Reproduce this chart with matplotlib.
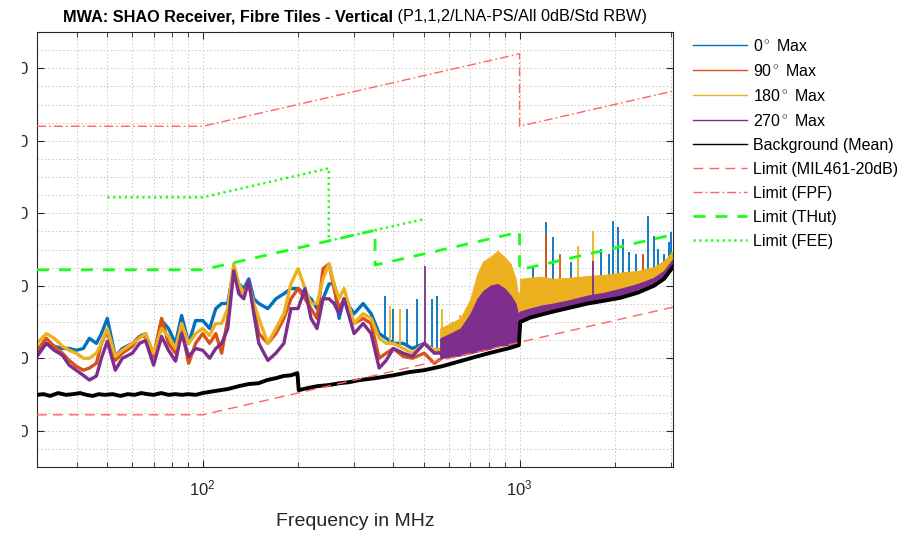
import numpy as np
import matplotlib.pyplot as plt
from matplotlib.lines import Line2D
from matplotlib.patches import Rectangle
from matplotlib.ticker import MultipleLocator, LogLocator, NullFormatter

plt.rcParams['font.family'] = ['Liberation Sans', 'DejaVu Sans']
plt.rcParams['mathtext.fontset'] = 'custom'
plt.rcParams['mathtext.rm'] = 'Liberation Sans'
plt.rcParams['mathtext.it'] = 'Liberation Sans:italic'
plt.rcParams['mathtext.bf'] = 'Liberation Sans:bold'
plt.rcParams['lines.scale_dashes'] = False

# Frequency grid of the max-hold traces (MHz)
freq = [30, 32.1, 34, 36.1, 37.9, 39.9, 42, 43.9, 46.2, 47.9,
        50, 53, 55.8, 60, 63.2, 66, 70, 74.2, 78, 82.1,
        85.8, 90.3, 95, 100, 105.2, 110, 114.8, 120, 125.3, 130,
        134.8, 139.8, 145, 150.4, 160.6, 170.2, 180.4, 189.9, 200, 210.3,
        219.7, 229.5, 239.8, 250.5, 259.8, 269.4, 279.4, 300.5, 320.9, 340.1,
        360.6, 379.5, 399.4, 429.5, 458.6, 500.5, 538.3, 579, 618.2, 660,
        699.6, 752.4, 797.7, 852, 896.7, 950.2, 995,
        1005, 1080, 1166, 1281, 1450, 1641, 1858, 2087, 2363, 2656, 2856, 3050]

max_0 = [-118.6, -115.9, -116.7, -117.3, -117.3, -117.8, -117.3, -114.5, -115.9, -113.2,
         -109.0, -119.5, -117.3, -115.9, -114.0, -113.2, -119.5, -109.6, -111.8, -115.9,
         -108.2, -115.9, -109.6, -109.6, -111.8, -106.3, -104.9, -104.9, -95.3, -99.5,
         -100.8, -98.1, -103.6, -104.9, -106.3, -103.6, -102.2, -100.8, -100.8, -102.2,
         -103.6, -106.3, -103.6, -99.5, -99.5, -109.0, -103.6, -107.7, -104.9, -107.7,
         -113.2, -114.5, -115.9, -115.9, -117.3, -115.9, -117.8, -117.8, -116.7, -115.9,
         -115.1, -114.0, -113.2, -112.3, -112.3, -112.6, -112.6,
         -103.6, -103.0, -102.5, -102.2, -101.4, -100.8, -100.3, -99.5, -98.6, -97.5, -95.9, -92.1]

max_90 = [-117.8, -114.5, -116.7, -118.6, -120.6, -122.2, -123.3, -122.7, -121.4, -115.9,
          -112.6, -120.6, -118.6, -116.7, -114.0, -114.0, -119.5, -109.0, -115.9, -118.6,
          -111.8, -121.4, -115.9, -113.2, -115.9, -113.2, -118.6, -109.0, -95.3, -100.8,
          -102.2, -99.5, -106.3, -113.2, -115.9, -113.2, -109.0, -103.6, -100.8, -103.6,
          -106.3, -109.0, -95.3, -94.0, -100.8, -106.3, -103.6, -110.4, -109.0, -110.4,
          -120.0, -118.6, -117.3, -119.5, -120.0, -118.6, -121.4, -119.5, -118.6, -117.3,
          -116.7, -115.1, -114.5, -113.4, -113.2, -113.4, -113.7,
          -104.9, -104.1, -103.6, -103.0, -102.2, -101.6, -100.8, -100.3, -99.5, -98.1, -96.7, -93.2]

max_180 = [-115.9, -113.2, -114.5, -116.7, -117.8, -118.6, -120.0, -120.0, -118.6, -115.9,
           -111.8, -119.5, -117.8, -115.9, -114.5, -113.2, -118.6, -111.8, -114.0, -117.3,
           -110.4, -115.9, -113.2, -111.8, -113.7, -110.4, -110.4, -106.3, -94.0, -99.5,
           -102.2, -99.5, -104.9, -109.0, -115.9, -111.8, -107.7, -99.5, -95.3, -100.8,
           -104.9, -104.9, -98.1, -94.0, -99.5, -103.6, -100.8, -110.4, -107.7, -109.0,
           -114.5, -115.9, -115.9, -117.3, -118.6, -115.9, -117.8, -117.3, -115.9, -115.1,
           -114.5, -113.2, -112.3, -111.8, -111.8, -112.3, -112.6,
           -102.2, -101.4, -100.8, -100.8, -100.3, -100.0, -99.5, -98.9, -98.1, -97.0, -94.8, -91.2]

max_270 = [-119.5, -115.9, -117.8, -119.2, -121.9, -123.3, -124.7, -126.0, -124.9, -120.0,
           -115.3, -123.3, -120.0, -118.6, -115.9, -115.1, -121.9, -114.0, -117.8, -120.8,
           -113.2, -119.5, -117.3, -117.8, -120.0, -117.3, -115.9, -111.8, -95.9, -102.2,
           -103.6, -98.6, -107.7, -115.9, -120.6, -118.6, -115.9, -106.3, -106.3, -100.8,
           -109.0, -111.8, -103.6, -103.6, -104.9, -107.7, -103.6, -113.2, -110.4, -113.2,
           -122.7, -120.6, -117.3, -118.6, -119.5, -115.9, -118.6, -118.6, -117.8, -117.3,
           -116.4, -115.3, -114.5, -114.0, -113.7, -114.0, -114.0,
           -107.7, -106.9, -106.3, -105.8, -104.9, -104.1, -103.3, -102.5, -101.1, -99.5, -97.5, -94.2]

# Background (mean) trace
bg_freq = [30, 31.5, 33, 35, 37, 39, 41, 43, 45, 47,
           49, 52, 55, 58, 61, 64, 67, 70, 74, 78,
           82, 86, 90, 95, 100, 110, 120, 130, 140, 150,
           160, 170, 180, 190, 199, 201, 215, 230, 250, 270,
           290, 314, 350, 400, 450, 500, 570, 650, 720, 800,
           870, 920, 995, 1005, 1080, 1166, 1281, 1450, 1641, 1858,
           2087, 2363, 2656, 2856, 3050]
bg_mean = [-130.1, -129.9, -130.4, -129.6, -130.1, -129.9, -129.6, -130.1, -130.4, -129.9,
           -130.1, -129.9, -130.4, -129.9, -130.1, -129.6, -129.9, -130.1, -129.6, -130.1,
           -129.9, -130.1, -129.9, -130.1, -129.6, -129.0, -128.5, -127.7, -127.1, -126.9,
           -126.0, -125.5, -124.9, -124.7, -124.1, -128.8, -128.2, -127.7, -127.4, -126.9,
           -126.6, -126.0, -125.5, -124.7, -123.8, -123.3, -122.2, -120.8, -119.7, -118.6,
           -117.8, -117.3, -116.4, -110.0, -108.8, -108.0, -107.1, -106.0, -104.9, -104.1,
           -103.3, -101.9, -100.0, -98.1, -94.8]

# Dense spur clusters: floor and top envelope (dB)
hump_freq = [562, 605, 651, 700, 736, 769, 809, 852, 897, 937, 971, 993]
hump_floor = [-120.0, -119.5, -119.2, -118.6, -118.1, -117.8, -117.3, -116.7, -116.4, -116.2, -115.9, -115.9]
hump_top_180 = [-111.8, -110.4, -109.0, -103.6, -96.7, -93.2, -92.1, -90.4, -92.1, -94.0, -98.1, -103.6]
hump_top_270 = [-114.5, -113.2, -111.8, -107.7, -103.6, -101.4, -100.0, -99.5, -100.8, -102.7, -104.9, -108.5]

hf_freq = [1005, 1080, 1166, 1281, 1450, 1641, 1858, 2087, 2363, 2656, 2856, 3050]
hf_floor = [-110.0, -108.8, -108.0, -107.1, -106.0, -104.9, -104.1, -103.3, -101.9, -100.0, -98.1, -94.8]
hf_top_180 = [-98.1, -97.8, -97.5, -98.1, -97.8, -97.3, -97.0, -96.4, -95.9, -94.8, -93.2, -90.4]
hf_top_270 = [-107.1, -106.3, -105.5, -104.9, -103.9, -102.7, -101.9, -100.8, -99.5, -97.8, -95.9, -92.6]

# Isolated spurs: frequency (MHz) and peak level (dB)
spur_0_f = [377, 399, 440, 475, 530, 550, 618, 700, 736, 1100, 1210, 1272, 1450,
            1805, 1912, 1969, 2042, 2118, 2213, 2329, 2450, 2541, 2660, 2735, 2856, 2960, 3004]
spur_0_top = [-102.7, -106.3, -106.3, -103.6, -103.6, -102.7, -109.9, -106.3, -98.9, -94.8, -82.5, -86.6, -93.4,
              -89.9, -91.2, -82.2, -83.8, -87.1, -90.7, -91.2, -91.8, -80.8, -86.3, -89.9, -91.2, -87.9, -85.2]
spur_90_f = [1210, 1340, 2450]
spur_90_top = [-85.8, -91.2, -91.2]
spur_180_f = [390, 420, 568, 590, 650, 1526, 1702]
spur_180_top = [-105.5, -106.3, -106.3, -111.8, -108.2, -89.0, -84.9]
spur_270_f = [504, 1702]
spur_270_top = [-94.5, -93.2]

# Limit lines
mil_f = [30, 100, 3050]
mil_lvl = [-135.6, -135.6, -105.9]
fpf_f = [30, 100, 1000, 1000, 3050]
fpf_lvl = [-56.0, -56.0, -36.0, -56.0, -46.3]
thut_f = [30, 100, 350, 350, 1000, 1000, 3050]
thut_lvl = [-95.6, -95.6, -84.7, -94.3, -85.2, -95.6, -85.9]
fee_f = [50, 100, 250, 250, 500]
fee_lvl = [-75.6, -75.6, -67.6, -87.6, -81.6]

c_blue, c_orange, c_yellow, c_purple = '#0072BD', '#D95319', '#EDB120', '#7E2F8E'
c_red, c_green = '#ff6464', '#19ff19'

fig = plt.figure(figsize=(9.22, 5.38), dpi=100)
ax = fig.add_axes([37 / 922, 1 - 467 / 538, 636 / 922, 435 / 538])

traces = [
    (max_0, c_blue, [], spur_0_f, spur_0_top),
    (max_90, c_orange, [], spur_90_f, spur_90_top),
    (max_180, c_yellow, [(hump_freq, hump_floor, hump_top_180), (hf_freq, hf_floor, hf_top_180)],
     spur_180_f, spur_180_top),
    (max_270, c_purple, [(hump_freq, hump_floor, hump_top_270), (hf_freq, hf_floor, hf_top_270)],
     spur_270_f, spur_270_top),
]
logf = np.log10(freq)
for level, color, clusters, sf, stop in traces:
    ax.plot(freq, level, color=color, lw=2.4, zorder=2)
    for cf, lo, hi in clusters:
        ax.fill_between(cf, lo, hi, color=color, lw=0.8, zorder=2)
    base = np.interp(np.log10(sf), logf, level)
    ax.vlines(sf, base, stop, color=color, lw=1.3, zorder=2)

ax.plot(bg_freq, bg_mean, color='black', lw=2.8, zorder=3)

ax.plot(mil_f, mil_lvl, color=c_red, lw=1.0, dashes=(7, 4.5), zorder=4)
ax.plot(fpf_f, fpf_lvl, color=c_red, lw=1.0, dashes=(6.5, 2.2, 1.2, 2.2), zorder=4)
ax.plot(thut_f, thut_lvl, color=c_green, lw=2.0, dashes=(8.6, 7.2), zorder=4)
ax.plot(fee_f, fee_lvl, color=c_green, lw=1.8, dashes=(1.6, 2.6), zorder=4)

ax.set_xscale('log')
ax.set_xlim(30, 3050)
ax.set_ylim(-150, -30)
ax.yaxis.set_major_locator(MultipleLocator(20))
ax.yaxis.set_minor_locator(MultipleLocator(5))
ax.xaxis.set_minor_locator(LogLocator(base=10, subs=np.arange(2, 10)))
ax.xaxis.set_minor_formatter(NullFormatter())
ax.grid(True, which='both', ls=':', color='#c4c4c4', lw=0.7)
ax.set_axisbelow(True)
ax.tick_params(which='both', direction='in', top=True, right=True, colors='#262626', labelsize=12)
ax.tick_params(which='major', length=5)
ax.tick_params(which='minor', length=3.5)
ax.tick_params(axis='y', which='minor', length=0)
ax.tick_params(axis='y', pad=6.0)
ax.tick_params(axis='x', pad=8.5)
for sp in ax.spines.values():
    sp.set_color('#262626')
    sp.set_linewidth(0.8)
ax.set_xlabel('Frequency in MHz', fontsize=14, color='#262626', labelpad=10)

# Legend
handles = [
    Line2D([], [], color=c_blue, lw=1),
    Line2D([], [], color=c_orange, lw=1),
    Line2D([], [], color=c_yellow, lw=1),
    Line2D([], [], color=c_purple, lw=1),
    Line2D([], [], color='black', lw=1),
    Line2D([], [], color=c_red, lw=1.0, dashes=(7, 4.5)),
    Line2D([], [], color=c_red, lw=1.0, dashes=(6.5, 2.2, 1.2, 2.2)),
    Line2D([], [], color=c_green, lw=2.0, dashes=(8.6, 7.2)),
    Line2D([], [], color=c_green, lw=1.8, dashes=(1.6, 2.6)),
]
labels = ['0$^\\circ$ Max', '90$^\\circ$ Max', '180$^\\circ$ Max', '270$^\\circ$ Max',
          'Background (Mean)', 'Limit (MIL461-20dB)', 'Limit (FPF)', 'Limit (THut)', 'Limit (FEE)']
fig.legend(handles, labels, loc='upper left', bbox_to_anchor=(693 / 922, 1 - 38 / 538),
           frameon=False, borderpad=0, borderaxespad=0, handlelength=3.4,
           handletextpad=0.35, labelspacing=0.56, fontsize=11.5)

# Title: bold main part followed by the regular configuration note
t1 = fig.text(0, 1 - 17 / 538, 'MWA: SHAO Receiver, Fibre Tiles - Vertical', fontsize=11.7,
              weight='bold', va='center', color='black')
t2 = fig.text(0, 1 - 17 / 538, ' (P1,1,2/LNA-PS/All 0dB/Std RBW)', fontsize=11.7,
              va='center', color='black')
fig.canvas.draw()
w1 = t1.get_window_extent().width
w2 = t2.get_window_extent().width
x0 = 355 - (w1 + w2) / 2
t1.set_x(x0 / 922)
t2.set_x((x0 + w1) / 922)

# left strip trimmed
fig.add_artist(Rectangle((0, 0), 22 / 922, 1, transform=fig.transFigure,
                         facecolor='white', edgecolor='none', zorder=10))

fig.savefig('out.png', dpi=100)
